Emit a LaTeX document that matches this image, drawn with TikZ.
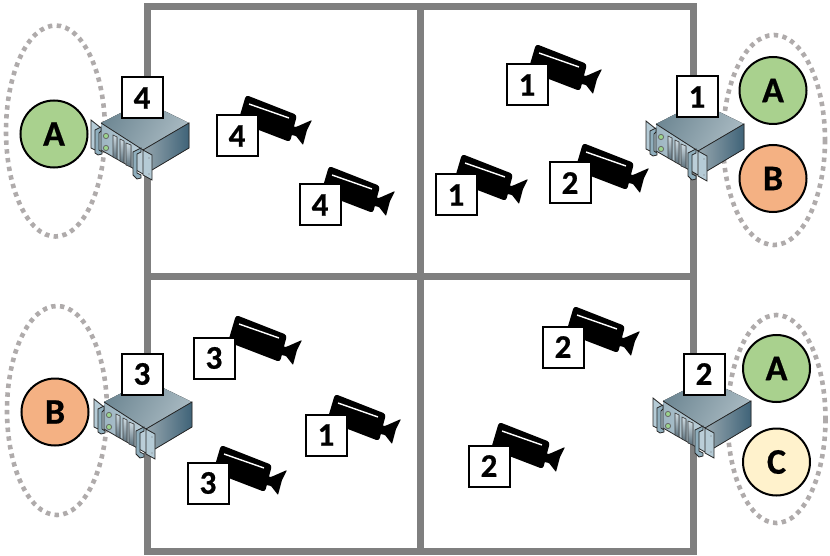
\documentclass[tikz,border=0pt]{standalone}
\usepackage{fontspec}
\setmainfont[BoldFeatures={FakeBold=0.6}]{Carlito}
\definecolor{wallgray}{HTML}{7F7F7F}
\definecolor{dotgray}{HTML}{AFABAB}
\definecolor{cgreen}{HTML}{A9D18E}
\definecolor{corange}{HTML}{F4B183}
\definecolor{cyellow}{HTML}{FFF2CC}
\tikzset{
  wall/.style={draw=wallgray,line width=7pt},
  zone/.style={draw=dotgray,line width=4.6pt,dash pattern=on 4.4pt off 4.4pt},
  member/.style={circle,draw=black,line width=2pt,minimum size=67pt,inner sep=0pt,font=\fontsize{36}{36}\selectfont\bfseries},
  tag/.style={rectangle,draw=black,fill=white,line width=2pt,minimum size=41pt,inner sep=0pt,font=\fontsize{33}{33}\selectfont\bfseries},
  srvedge/.style={draw=black!85,line width=.8pt},
  camera/.pic={
    \fill[black,rounded corners=3pt] (-1,-2) -- (50,18) -- (43,45) -- (-9,25) -- cycle;
    \fill[black,rounded corners=.8pt] (40,28) -- (49,30) -- (65,23) -- (60,33) -- (56,48) -- (49,39) -- (40,37) -- cycle;
    \draw[white,line width=1.4pt] (2,7) -- (42,21);
  },
  server/.pic={
    \fill[left color=srvtopa,right color=srvtopb,shading angle=60] (-41,25) -- (2,3) -- (47,25) -- (1,52) -- cycle;
    \fill[left color=srvra,right color=srvrb] (1,52) -- (47,25) -- (47,50) -- (10,72) -- (1,76) -- cycle;
    \fill[left color=srvfa,right color=srvfb] (-41,25) -- (1,52) -- (1,76) -- (-41,52) -- cycle;
    \draw[srvedge] (-41,25) -- (1,52) -- (47,25) -- (47,50) -- (10,72);
    \draw[srvedge] (-41,52) -- (1,76);
    \foreach \xa/\xb/\ya in {-29/-25/37,-22/-18/41,-16/-11/45}{
      \fill[top color=srvslota,bottom color=srvslotb,draw=black!75,line width=.6pt] (\xa,\ya) -- (\xb,\ya+2) -- (\xb,\ya+24) -- (\xa,\ya+22) -- cycle;
    }
    \fill[srvled,draw=black!60,line width=.8pt] (-36,38) circle (2.6pt);
    \fill[srvled,draw=black!60,line width=.8pt] (-36,50) circle (2.6pt);
    \fill[srvear,srvedge] (-51,22) -- (-41,30) -- (-41,55) -- (-51,50) -- cycle;
    \fill[srvhand,srvedge] (-47,32) -- (-41,29) -- (-41,33) -- (-43,35) -- (-43,52) -- (-40,54) -- (-40,56) -- (-44,57) -- (-47,55) -- cycle;
    \fill[srvear,srvedge] (1,52) -- (10,57) -- (10,82) -- (1,77) -- cycle;
    \fill[black!55] (7,60) circle (.7pt);
    \fill[black!55] (7,76) circle (.7pt);
    \fill[srvhand,srvedge] (-9,54) -- (-1,50) -- (-1,54) -- (-5,56) -- (-5,75) -- (-1,77) -- (-1,80) -- (-5,81) -- (-9,77) -- cycle;
  }
}
\definecolor{srvtopa}{HTML}{6F8894}
\definecolor{srvtopb}{HTML}{A9BAC2}
\definecolor{srvra}{HTML}{96A6AE}
\definecolor{srvrb}{HTML}{3F6378}
\definecolor{srvfa}{HTML}{9DB5C1}
\definecolor{srvfb}{HTML}{BDD0DA}
\definecolor{srvslota}{HTML}{D0DDE4}
\definecolor{srvslotb}{HTML}{5A6F7B}
\definecolor{srvled}{HTML}{9BD48C}
\definecolor{srvear}{HTML}{B5CBD6}
\definecolor{srvhand}{HTML}{8FAEBD}
\begin{document}
\begin{tikzpicture}[x=1pt,y=-1pt]
\useasboundingbox (0,0) rectangle (830,556);
\draw[wall] (147,6.5) rectangle (693,551);
\draw[wall] (420,6.5) -- (420,551);
\draw[wall] (147,276.5) -- (693,276.5);
\draw[zone] (55.5,131) ellipse [x radius=49.5,y radius=105.5];
\draw[zone] (774,140) ellipse [x radius=51,y radius=105];
\draw[zone] (57,410.5) ellipse [x radius=50,y radius=104.5];
\draw[zone] (776.5,419) ellipse [x radius=49,y radius=104];
\node[member,fill=cgreen] (ma1) at (54,134) {A};
\node[member,fill=cgreen] (ma2) at (773,90.5) {A};
\node[member,fill=corange] (mb1) at (773,178.5) {B};
\node[member,fill=corange] (mb2) at (55,412) {B};
\node[member,fill=cgreen] (ma3) at (776.5,368.5) {A};
\node[member,fill=cyellow] (mc) at (776.5,462) {C};
\foreach \sx/\sy/\px/\py/\lab/\nm in {142/98/142/98/4/s4,697/99/697/97/1/s1,145/377/142/374/3/s3,704/376/704/374/2/s2}{
  \pic at (\sx,\sy) {server};
  \node[tag] (\nm) at (\px,\py) {\lab};
}
\foreach \bx/\by/\px/\py/\lab/\nm in {247/97/237/136/4/c1,330/168/320/205/4/c2,537/46/527/85/1/c3,463/156/456/195/1/c4,584/145/570/183/2/c5,237/317/214/358/3/c6,336/396/326/435/1/c7,222/447/208/483/3/c8,575/308/563/347/2/c9,500/424/489/466/2/c10}{
  \pic at (\bx,\by) {camera};
  \node[tag] (\nm) at (\px,\py) {\lab};
}
\end{tikzpicture}
\end{document}
